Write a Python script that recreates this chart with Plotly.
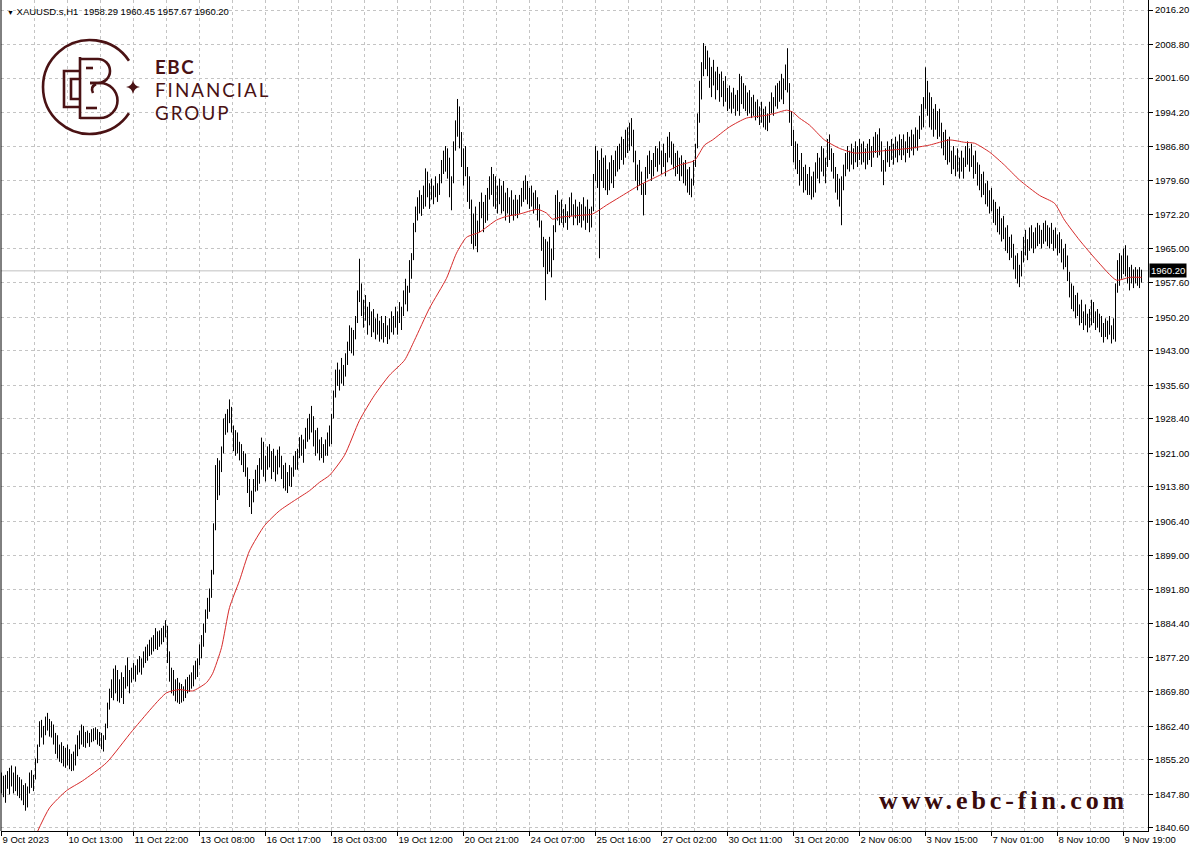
import base64
import plotly.graph_objects as go

# ---------------- data (XAUUSD.s H1) ----------------
high = [
 1852.5,1851.8,1852.0,1852.8,1853.5,1854.0,1852.5,1853.8,1852.0,1851.5,
 1851.0,1849.8,1850.2,1849.5,1852.5,1853.0,1852.0,1855.5,1858.5,1863.5,
 1863.8,1862.5,1864.5,1865.3,1864.0,1863.5,1862.8,1861.0,1860.5,1858.5,
 1859.0,1858.2,1857.8,1858.5,1857.5,1856.5,1857.0,1858.5,1860.5,1861.5,
 1862.8,1862.5,1861.2,1861.5,1861.0,1861.8,1862.0,1862.2,1861.8,1861.2,
 1861.0,1860.5,1863.0,1867.5,1870.5,1872.5,1874.8,1875.5,1874.5,1872.5,
 1874.0,1873.0,1875.5,1877.2,1874.5,1875.0,1876.0,1875.5,1876.8,1877.5,
 1877.0,1878.5,1879.5,1880.0,1881.0,1881.5,1882.0,1883.5,1882.8,1883.0,
 1883.5,1884.0,1885.2,1884.0,1878.5,1875.0,1874.5,1872.5,1872.8,1871.8,
 1871.5,1871.0,1872.5,1873.0,1873.5,1874.0,1875.5,1876.5,1877.0,1880.0,
 1882.0,1884.5,1887.5,1890.0,1892.0,1896.0,1906.0,1918.5,1920.0,1919.5,
 1922.5,1928.5,1929.5,1930.5,1932.6,1931.0,1927.0,1926.0,1925.5,1923.5,
 1923.0,1921.5,1921.0,1918.0,1915.5,1913.0,1915.5,1917.5,1918.5,1920.0,
 1924.4,1923.5,1920.5,1922.5,1923.0,1921.5,1922.0,1920.5,1921.8,1922.5,
 1920.5,1918.5,1919.0,1917.0,1918.5,1918.0,1920.5,1921.5,1922.0,1924.5,
 1925.0,1924.0,1926.5,1928.5,1929.5,1931.2,1929.0,1926.0,1926.5,1924.0,
 1924.5,1923.0,1924.0,1925.5,1927.0,1929.5,1934.5,1939.0,1940.5,1939.0,
 1941.5,1940.0,1942.5,1945.0,1948.5,1948.0,1947.5,1950.5,1956.0,1962.8,
 1957.5,1954.0,1955.0,1952.5,1953.5,1951.5,1952.0,1950.0,1951.0,1949.5,
 1950.5,1949.0,1950.5,1948.5,1950.0,1951.5,1950.5,1952.5,1951.5,1953.5,
 1952.5,1956.0,1958.5,1957.0,1962.5,1964.0,1970.5,1974.0,1976.0,1977.5,
 1976.5,1978.5,1982.2,1981.5,1979.0,1980.0,1978.5,1980.5,1979.0,1981.0,
 1984.0,1986.0,1987.0,1986.5,1984.5,1980.5,1988.0,1992.5,1997.1,1995.5,
 1990.0,1986.5,1987.0,1982.5,1980.5,1975.5,1972.5,1974.0,1971.0,1975.0,
 1977.0,1975.0,1976.5,1978.0,1980.5,1982.5,1981.0,1980.5,1978.5,1980.0,
 1978.5,1979.5,1977.0,1978.0,1976.0,1977.5,1975.5,1976.5,1975.5,1976.5,
 1978.0,1979.5,1980.7,1979.5,1978.0,1978.5,1977.0,1977.5,1976.0,1974.5,
 1971.0,1967.5,1967.0,1966.5,1967.5,1965.0,1970.0,1976.5,1977.5,1975.0,
 1975.5,1973.5,1974.5,1973.0,1976.0,1977.0,1974.5,1975.5,1974.0,1975.0,
 1974.5,1976.0,1974.0,1975.5,1973.5,1974.0,1981.0,1987.0,1986.0,1984.0,
 1986.5,1984.5,1985.0,1982.0,1983.5,1985.0,1984.0,1986.0,1987.0,1987.5,
 1989.0,1988.5,1990.5,1991.0,1992.0,1993.0,1990.5,1986.0,1983.0,1984.0,
 1981.5,1979.0,1982.5,1985.0,1986.0,1984.0,1985.5,1987.0,1986.5,1988.0,
 1986.0,1987.5,1985.5,1989.0,1990.0,1988.0,1987.5,1985.5,1986.0,1984.5,
 1985.0,1983.5,1984.0,1982.0,1982.5,1980.0,1984.0,1987.5,1994.0,2001.0,
 2005.0,2009.1,2008.5,2007.5,2006.0,2004.0,2005.5,2003.0,2004.0,2002.5,
 2003.0,2001.0,2002.0,1999.5,2000.0,1998.5,1999.5,1998.0,1999.0,2002.5,
 2002.0,2000.5,2000.0,1998.5,1999.0,1997.5,1998.0,1996.5,1997.0,1995.5,
 1996.5,1995.0,1995.5,1994.0,1996.5,1998.5,1997.5,2000.0,2000.5,2001.0,
 2002.5,2001.5,2004.5,2008.0,2000.5,1994.5,1990.5,1988.0,1987.5,1984.0,
 1985.5,1982.5,1983.0,1981.0,1982.5,1980.5,1981.5,1983.5,1985.5,1984.5,
 1987.0,1986.5,1984.5,1988.5,1989.5,1986.5,1985.5,1982.5,1981.0,1980.0,
 1980.5,1983.0,1985.5,1987.0,1986.0,1987.5,1986.5,1988.0,1987.0,1988.5,
 1987.5,1988.0,1986.5,1987.5,1988.5,1987.0,1989.0,1990.0,1989.5,1990.8,
 1988.0,1984.0,1986.5,1988.0,1987.0,1988.5,1987.5,1989.0,1988.0,1989.5,
 1988.5,1989.5,1988.0,1990.0,1989.0,1990.5,1989.5,1991.0,1990.5,1993.5,
 1996.0,1997.5,2003.9,2001.0,1998.5,1997.5,1995.0,1996.0,1994.5,1995.0,
 1992.0,1990.0,1990.5,1988.5,1989.0,1986.0,1987.0,1985.0,1986.5,1984.5,
 1986.0,1984.5,1987.0,1988.0,1986.5,1987.5,1985.0,1986.0,1983.5,1983.0,
 1981.0,1981.5,1979.0,1979.5,1977.5,1978.0,1975.5,1975.0,1973.5,1974.0,
 1971.5,1972.0,1969.5,1970.0,1967.5,1968.0,1966.0,1963.5,1964.0,1961.5,
 1964.5,1967.5,1969.0,1967.0,1969.5,1970.0,1968.5,1969.5,1970.5,1970.0,
 1969.0,1970.5,1971.0,1970.0,1969.5,1970.5,1969.0,1969.5,1968.0,1968.5,
 1967.0,1965.0,1966.0,1963.5,1960.0,1957.5,1957.0,1955.0,1955.5,1953.0,
 1954.0,1951.5,1953.0,1951.0,1952.0,1954.0,1953.5,1951.5,1952.0,1951.0,
 1950.5,1949.0,1950.0,1949.5,1950.5,1948.5,1950.0,1957.5,1962.5,1964.0,
 1963.5,1965.0,1965.7,1963.5,1961.0,1961.5,1960.5,1961.0,1960.5,1961.0,1960.45,
]
low = [
 1848.0,1847.2,1846.0,1849.0,1847.8,1849.5,1848.0,1848.5,1847.5,1847.0,
 1846.5,1845.5,1844.3,1845.0,1848.0,1849.2,1848.5,1851.0,1854.5,1858.0,
 1860.0,1858.5,1860.5,1861.5,1860.2,1860.0,1858.5,1856.5,1855.5,1854.8,
 1854.5,1853.8,1853.5,1854.0,1853.2,1852.8,1852.9,1854.0,1856.0,1857.5,
 1858.5,1858.0,1857.8,1858.8,1858.0,1859.0,1859.2,1859.5,1858.5,1858.2,
 1857.5,1857.0,1859.5,1862.0,1866.0,1868.5,1868.0,1869.5,1867.8,1867.5,
 1868.5,1867.2,1870.5,1871.0,1869.5,1871.8,1872.5,1872.0,1873.5,1874.0,
 1873.5,1875.0,1876.0,1876.5,1877.5,1877.8,1878.5,1879.0,1878.8,1879.5,
 1880.0,1880.5,1881.5,1876.0,1872.0,1869.5,1869.0,1867.8,1867.5,1867.2,
 1867.5,1867.8,1868.5,1869.5,1869.8,1870.5,1871.0,1872.5,1873.0,1875.5,
 1877.0,1879.5,1882.5,1885.5,1887.0,1890.0,1895.0,1904.5,1911.0,1912.0,
 1917.0,1921.0,1925.0,1925.5,1927.5,1925.5,1921.5,1920.5,1921.0,1919.5,
 1918.5,1917.0,1916.0,1912.5,1909.5,1908.0,1910.5,1912.8,1913.0,1914.5,
 1917.5,1916.0,1915.0,1917.5,1918.0,1915.5,1917.0,1915.0,1916.5,1918.0,
 1915.5,1913.5,1913.0,1912.5,1914.0,1913.8,1916.0,1917.5,1917.5,1920.0,
 1920.5,1919.0,1922.0,1923.5,1924.0,1925.5,1922.5,1920.5,1921.0,1919.5,
 1920.0,1919.0,1920.5,1920.5,1922.5,1923.0,1928.5,1933.0,1935.5,1934.5,
 1936.0,1935.5,1937.5,1940.0,1943.0,1942.5,1942.0,1945.5,1949.0,1953.5,
 1950.5,1948.0,1949.5,1946.5,1948.5,1946.0,1947.0,1945.5,1946.5,1945.0,
 1945.5,1944.8,1946.0,1944.5,1945.5,1947.0,1946.5,1948.0,1946.5,1949.0,
 1947.5,1950.5,1953.0,1951.5,1955.5,1958.5,1962.5,1968.5,1971.0,1972.5,
 1972.0,1973.5,1974.0,1976.0,1973.5,1975.5,1974.5,1976.0,1975.0,1976.5,
 1979.0,1981.0,1981.5,1980.0,1976.0,1973.2,1979.0,1986.0,1989.0,1986.5,
 1982.5,1978.5,1980.5,1975.0,1973.5,1966.0,1964.8,1965.5,1964.2,1968.5,
 1971.5,1968.5,1970.5,1971.0,1975.5,1976.5,1974.0,1973.5,1972.5,1974.5,
 1972.5,1973.0,1971.0,1972.5,1970.5,1972.0,1971.0,1972.0,1971.5,1972.5,
 1974.0,1975.0,1975.5,1974.5,1973.5,1974.0,1972.5,1973.5,1971.0,1969.5,
 1964.5,1961.0,1953.9,1959.5,1960.0,1958.8,1962.5,1968.5,1971.0,1970.0,
 1970.5,1969.5,1970.5,1969.0,1971.5,1972.0,1970.0,1971.5,1970.0,1970.5,
 1969.5,1971.0,1969.0,1970.5,1968.5,1969.5,1973.0,1979.5,1978.0,1962.9,
 1979.5,1978.0,1977.5,1976.5,1977.5,1979.0,1978.0,1980.5,1981.5,1982.0,
 1984.0,1983.0,1984.5,1985.5,1986.0,1987.0,1983.5,1979.5,1977.5,1978.5,
 1976.5,1972.1,1976.5,1980.0,1981.0,1979.5,1980.5,1982.5,1981.5,1983.0,
 1981.0,1982.5,1980.5,1983.5,1984.5,1983.0,1982.0,1980.5,1981.0,1979.5,
 1980.5,1979.0,1978.5,1977.0,1976.5,1976.0,1978.5,1982.5,1986.5,1992.0,
 1997.0,2002.0,2003.5,2002.0,1999.5,1997.5,2000.0,1997.0,1999.0,1996.5,
 1997.5,1995.5,1996.5,1994.5,1995.0,1994.0,1995.0,1993.5,1994.5,1993.5,
 1996.0,1995.0,1994.5,1993.5,1994.0,1993.0,1993.5,1992.5,1993.0,1991.5,
 1992.0,1991.0,1990.5,1990.2,1992.0,1994.0,1993.5,1995.5,1995.0,1996.5,
 1997.0,1996.0,1999.0,1998.5,1992.0,1987.0,1983.5,1982.0,1981.0,1978.5,
 1979.5,1977.0,1977.5,1976.5,1976.5,1975.5,1976.0,1977.0,1980.0,1979.0,
 1981.5,1980.5,1979.0,1982.5,1984.0,1981.5,1980.0,1977.0,1975.5,1974.0,
 1970.0,1977.5,1980.5,1982.0,1981.5,1983.0,1982.0,1983.5,1982.5,1984.0,
 1983.0,1983.5,1982.0,1983.0,1984.0,1982.5,1984.5,1985.5,1984.5,1985.0,
 1981.5,1978.6,1981.5,1983.5,1982.5,1984.0,1983.0,1984.5,1983.5,1985.0,
 1984.0,1985.0,1983.5,1985.5,1984.5,1986.0,1985.0,1986.5,1986.0,1988.5,
 1990.5,1991.0,1995.0,1993.5,1991.0,1990.5,1989.0,1990.5,1988.5,1989.0,
 1986.5,1985.0,1984.0,1983.0,1983.5,1981.0,1982.0,1980.5,1981.5,1980.0,
 1981.5,1980.0,1982.5,1983.0,1981.5,1982.5,1980.0,1981.0,1978.5,1977.5,
 1976.0,1976.5,1974.5,1974.0,1972.5,1973.0,1970.5,1970.0,1968.5,1968.0,
 1966.5,1967.0,1964.5,1964.0,1962.5,1963.0,1960.5,1958.5,1957.5,1956.7,
 1959.0,1962.0,1963.5,1962.5,1964.5,1965.0,1964.0,1965.0,1965.5,1966.0,
 1965.0,1966.0,1966.5,1965.5,1965.0,1966.0,1964.5,1965.0,1963.5,1964.0,
 1962.0,1960.5,1961.0,1958.0,1954.5,1952.0,1951.5,1950.0,1950.5,1948.5,
 1949.0,1947.5,1948.5,1947.0,1948.0,1948.5,1949.0,1947.5,1948.0,1947.0,
 1946.0,1944.8,1946.0,1945.5,1946.5,1944.6,1945.5,1945.0,1955.5,1957.0,
 1958.5,1959.5,1959.0,1957.5,1956.0,1957.5,1956.5,1957.5,1957.0,1956.5,1957.67,
]
close = [
 1850.5,1848.0,1851.0,1849.8,1852.5,1850.2,1851.5,1849.0,1850.0,1848.2,
 1847.5,1848.5,1845.2,1848.8,1851.8,1850.0,1851.5,1855.0,1858.0,1862.5,
 1861.0,1862.0,1863.8,1862.5,1861.0,1862.8,1859.5,1857.8,1856.2,1857.5,
 1855.0,1857.5,1854.0,1857.8,1854.2,1853.5,1856.5,1855.2,1859.8,1860.5,
 1862.0,1859.0,1860.5,1859.5,1860.2,1861.0,1859.8,1861.5,1859.5,1860.5,
 1858.0,1860.0,1862.5,1867.0,1869.8,1869.5,1874.0,1870.5,1868.5,1872.0,
 1869.2,1872.5,1875.0,1872.0,1873.8,1874.5,1873.2,1875.2,1876.0,1875.0,
 1876.5,1877.8,1877.0,1879.5,1878.5,1880.8,1879.5,1882.8,1880.0,1882.5,
 1881.0,1883.5,1882.5,1877.0,1873.0,1872.5,1870.0,1871.5,1868.5,1870.8,
 1868.5,1870.5,1871.8,1870.2,1873.0,1871.5,1875.0,1874.0,1876.5,1879.5,
 1881.5,1883.0,1887.0,1889.0,1891.5,1895.5,1905.0,1917.5,1913.0,1918.8,
 1921.8,1927.5,1926.0,1929.8,1928.5,1926.0,1922.5,1925.0,1921.8,1922.8,
 1919.5,1920.8,1916.8,1913.5,1910.5,1912.5,1914.8,1913.5,1918.0,1915.5,
 1923.0,1917.0,1919.8,1921.5,1918.8,1920.5,1917.8,1919.5,1921.0,1918.5,
 1916.2,1917.8,1914.0,1916.5,1915.0,1917.5,1920.0,1918.5,1921.5,1923.8,
 1921.5,1923.5,1925.8,1924.5,1929.0,1926.5,1923.5,1925.0,1922.0,1923.0,
 1921.0,1922.5,1921.5,1925.0,1923.5,1929.0,1934.0,1938.0,1936.5,1938.5,
 1937.0,1939.5,1942.0,1944.5,1947.5,1943.5,1947.0,1950.0,1955.0,1955.5,
 1951.5,1953.0,1950.5,1951.8,1949.0,1950.5,1947.8,1949.5,1947.0,1948.5,
 1946.5,1948.5,1946.8,1948.0,1949.5,1948.0,1950.0,1949.5,1951.0,1950.0,
 1951.8,1955.5,1954.0,1956.5,1961.5,1963.5,1970.0,1973.0,1975.5,1973.5,
 1975.8,1974.5,1981.0,1977.0,1978.5,1976.5,1978.0,1976.8,1978.5,1980.5,
 1983.5,1982.0,1986.5,1981.0,1977.5,1979.5,1987.0,1991.0,1990.5,1988.0,
 1983.5,1985.0,1981.0,1976.5,1974.5,1967.5,1971.5,1966.5,1970.0,1974.5,
 1972.5,1974.0,1971.5,1977.5,1980.0,1977.5,1980.0,1974.5,1977.8,1975.5,
 1977.5,1974.0,1976.0,1973.0,1975.5,1972.8,1974.8,1973.0,1974.5,1976.0,
 1977.5,1976.0,1979.5,1975.0,1977.5,1974.5,1976.5,1974.0,1972.0,1970.5,
 1965.5,1966.0,1962.0,1965.5,1961.0,1964.5,1969.5,1975.5,1972.0,1974.0,
 1971.5,1972.8,1971.0,1972.5,1975.5,1972.8,1973.8,1972.0,1973.5,1971.5,
 1973.5,1971.8,1973.0,1971.0,1972.5,1973.8,1980.5,1985.5,1979.0,1982.5,
 1980.5,1983.5,1978.5,1981.0,1982.5,1980.0,1983.0,1985.5,1982.5,1986.5,
 1988.5,1984.0,1990.0,1986.5,1991.5,1988.0,1984.5,1980.5,1982.0,1979.5,
 1977.5,1978.0,1982.0,1984.5,1981.5,1983.5,1984.5,1983.5,1986.0,1984.0,
 1985.5,1983.0,1985.0,1988.0,1985.5,1987.0,1983.0,1984.5,1982.0,1983.5,
 1981.5,1982.5,1979.5,1981.5,1977.5,1979.0,1983.5,1987.0,1993.0,2000.0,
 2004.0,2007.5,2004.5,2006.5,2000.5,2003.5,2001.0,2002.5,2000.0,2001.5,
 1998.5,2000.5,1997.0,1998.5,1995.8,1997.5,1996.0,1997.0,1995.5,2001.0,
 1997.0,1999.5,1995.5,1997.5,1994.8,1996.5,1994.0,1995.8,1993.5,1995.0,
 1993.0,1994.5,1991.5,1993.5,1996.0,1995.0,1997.0,1999.0,1996.5,2000.5,
 1998.0,2001.0,2003.5,1999.5,1993.0,1988.0,1985.0,1986.5,1982.0,1983.0,
 1980.5,1981.5,1978.5,1980.5,1977.5,1979.5,1977.0,1983.0,1981.0,1984.0,
 1986.0,1981.5,1983.5,1988.0,1985.0,1985.5,1981.0,1981.5,1976.5,1978.5,
 1979.5,1982.5,1985.0,1983.0,1985.5,1984.0,1986.0,1984.5,1986.5,1985.0,
 1986.5,1984.0,1985.5,1986.5,1985.0,1986.0,1988.5,1986.5,1989.0,1986.0,
 1982.5,1983.5,1986.0,1984.5,1986.5,1985.0,1987.0,1985.5,1987.5,1986.0,
 1988.0,1986.0,1987.5,1986.5,1988.5,1987.0,1989.0,1987.5,1990.0,1993.0,
 1991.5,1996.5,1997.5,1995.0,1997.0,1991.5,1994.0,1991.0,1993.5,1990.0,
 1987.5,1989.5,1985.0,1987.5,1984.0,1985.5,1982.5,1984.5,1982.0,1984.0,
 1982.5,1984.0,1986.5,1984.0,1985.5,1983.0,1984.5,1981.5,1982.5,1978.5,
 1980.5,1977.0,1978.0,1974.5,1976.5,1973.5,1974.0,1970.5,1972.5,1968.5,
 1970.5,1967.5,1968.5,1964.5,1966.5,1963.5,1961.5,1962.5,1958.5,1960.5,
 1963.5,1966.5,1964.5,1966.5,1968.5,1965.5,1967.5,1966.0,1969.5,1966.5,
 1968.5,1967.0,1970.5,1966.5,1968.5,1967.0,1968.0,1965.5,1967.0,1964.5,
 1963.0,1964.5,1961.5,1958.5,1955.5,1956.5,1952.5,1954.0,1951.0,1952.0,
 1949.5,1950.5,1949.0,1950.5,1948.5,1953.0,1950.0,1951.0,1948.5,1950.0,
 1946.5,1948.5,1946.8,1949.0,1947.0,1948.0,1946.0,1957.0,1961.5,1958.5,
 1962.5,1960.5,1963.0,1958.5,1959.5,1958.0,1960.0,1958.5,1959.5,1958.29,1960.20,
]
first_open = 1849.5
open_ = [first_open] + close[:-1]
open_[-1] = 1958.29

# moving average (red line): bar index, value
ma_idx = [17, 24, 32.5, 40.5, 52.5, 65.5, 82.5, 89, 95.5, 102.5, 105.5, 110, 114, 119,
          124, 131.5, 139, 146.5, 154, 159, 164, 171.5, 179, 186.5, 194, 201.5, 206.5,
          214, 222.5, 227.5, 232.5, 239, 247.5, 252.5, 259, 268, 272.5, 275.5, 279, 289,
          295.5, 302.5, 309, 319, 329, 339, 346.5, 351.5, 355.5, 364, 372.5, 382.5,
          387.5, 392.5, 395.5, 399, 404, 411.5, 419, 426.5, 434, 444, 454, 464, 474,
          481.5, 486.5, 494, 501.5, 509, 519, 526.5, 531.5, 539, 547.5, 557.5, 564, 570]
ma_val = [1838.9, 1844.9, 1848.6, 1850.7, 1854.6, 1861.5, 1869.6, 1870.3, 1870.0, 1871.8,
          1873.7, 1879.3, 1887.9, 1893.7, 1900.1, 1905.5, 1908.7, 1910.9, 1913.0, 1914.8,
          1916.3, 1920.6, 1928.1, 1933.5, 1937.8, 1941.0, 1945.3, 1952.2, 1958.6, 1964.0,
          1967.4, 1968.5, 1971.1, 1971.9, 1972.4, 1973.4, 1972.6, 1971.3, 1971.7, 1972.1,
          1972.4, 1974.3, 1976.0, 1978.6, 1980.7, 1982.9, 1983.9, 1987.2, 1988.3, 1991.1,
          1993.0, 1993.6, 1994.1, 1994.7, 1994.3, 1993.0, 1991.5, 1988.3, 1986.5, 1985.5,
          1985.7, 1986.1, 1986.5, 1987.2, 1988.3, 1987.8, 1987.6, 1985.7, 1982.9, 1979.7,
          1976.4, 1974.7, 1971.1, 1966.8, 1962.5, 1958.2, 1958.8, 1958.8]

x_tick_labels = ["9 Oct 2023", "10 Oct 13:00", "11 Oct 22:00", "13 Oct 08:00", "16 Oct 17:00",
                 "18 Oct 03:00", "19 Oct 12:00", "20 Oct 21:00", "24 Oct 07:00", "25 Oct 16:00",
                 "27 Oct 02:00", "30 Oct 11:00", "31 Oct 20:00", "2 Nov 06:00", "3 Nov 15:00",
                 "7 Nov 01:00", "8 Nov 10:00", "9 Nov 19:00"]
bars_per_label = 33
y_tick_labels = ["2016.20", "2008.80", "2001.60", "1994.20", "1986.80", "1979.60", "1972.20",
                 "1965.00", "1957.60", "1950.20", "1943.00", "1935.60", "1928.40", "1921.00",
                 "1913.80", "1906.40", "1899.00", "1891.80", "1884.40", "1877.20", "1869.80",
                 "1862.40", "1855.20", "1847.80", "1840.60"]
symbol = "XAUUSD.s,H1"
site = "www.ebc-fin.com"

# ---------------- styling ----------------
MAROON = "#4a1214"
GRID = "#c4c4c4"
FONT = "Liberation Sans, Arial, sans-serif"

idx = list(range(len(close)))
last_close = close[-1]

fig = go.Figure()
fig.add_trace(go.Ohlc(
    x=idx, open=open_, high=high, low=low, close=close,
    increasing=dict(line=dict(color="#000000", width=1)),
    decreasing=dict(line=dict(color="#000000", width=1)),
    tickwidth=0, hoverinfo="skip", showlegend=False,
))
fig.add_trace(go.Scatter(
    x=ma_idx, y=ma_val, mode="lines",
    line=dict(color="#d62a2a", width=1, shape="spline", smoothing=0.6),
    hoverinfo="skip", showlegend=False,
))

x_tickvals = [k * bars_per_label for k in range(len(x_tick_labels))]
x_minor = [k * bars_per_label / 2 for k in range(0, 36)]
y_tickvals = [float(t) for t in y_tick_labels]

W, H = 1196, 862
ML, MR, MT, MB = 1, 48, 0, 31
PW, PH = W - ML - MR, H - MT - MB

fig.update_layout(
    width=W, height=H,
    margin=dict(l=ML, r=MR, t=MT, b=MB, autoexpand=False),
    paper_bgcolor="white", plot_bgcolor="white",
    font=dict(family=FONT, size=10, color="black"),
    showlegend=False,
    xaxis=dict(
        range=[-0.25, 573.25], rangeslider=dict(visible=False), automargin=False,
        tickmode="array", tickvals=x_tickvals, ticktext=x_tick_labels,
        ticks="outside", ticklen=4, tickcolor="black",
        ticklabelposition="outside right",
        tickfont=dict(size=9.5, family=FONT),
        showline=True, linecolor="black", linewidth=1,
        showgrid=True, gridcolor=GRID, griddash="3px,3px", gridwidth=1,
        minor=dict(tickmode="array", tickvals=x_minor, showgrid=True, gridcolor=GRID,
                   griddash="3px,3px", gridwidth=1, ticks=""),
        zeroline=False, fixedrange=True,
    ),
    yaxis=dict(
        side="right", range=[1839.94, 2018.35], automargin=False,
        tickmode="array", tickvals=y_tickvals, ticktext=y_tick_labels,
        ticks="outside", ticklen=4, tickcolor="black",
        tickfont=dict(size=9.5, family=FONT),
        showline=True, linecolor="black", linewidth=1,
        showgrid=True, gridcolor=GRID, griddash="3px,3px", gridwidth=1,
        zeroline=False, fixedrange=True,
    ),
)

# current price line and label
fig.add_shape(type="line", xref="paper", x0=0, x1=1, yref="y", y0=last_close, y1=last_close,
              line=dict(color="#c0c0c0", width=1), layer="below")
fig.add_annotation(xref="paper", x=1, xanchor="left", xshift=1, yref="y", y=last_close,
                   yanchor="middle", text=f"{last_close:.2f}", showarrow=False,
                   bgcolor="black", font=dict(color="white", size=9.5, family=FONT), borderpad=1)
# left frame line
fig.add_shape(type="line", xref="paper", x0=0, x1=0, yref="paper", y0=0, y1=1,
              line=dict(color="black", width=1))

# header text
hdr = f"{symbol}  {open_[-1]:.2f} {high[-1]:.2f} {low[-1]:.2f} {close[-1]:.2f}"
fig.add_annotation(xref="paper", yref="paper", x=4 / PW, y=1 - 11 / PH, xanchor="left",
                   yanchor="middle", showarrow=False,
                   text=f"<span style='font-size:7px'>▼</span> {hdr}",
                   font=dict(size=9.5, family=FONT, color="black"))

# logo graphic (monogram)
svg = f'''<svg xmlns="http://www.w3.org/2000/svg" viewBox="38 36 106 106" width="106" height="106" preserveAspectRatio="none">
<g fill="none" stroke="{MAROON}" stroke-width="2.6">
<path d="M128.97,60.7 A47,47 0 1 0 128.97,113.3"/>
<path d="M80,71 H64 V107 H80"/>
<path d="M80,79 H71 V99 H80"/>
<path d="M80,57 V119"/>
<path d="M80,59 H98 A12,12 0 0 1 98,83 H90"/>
<path d="M90,83 H100 A17.5,17.5 0 0 1 100,118 H80"/>
<path d="M86,68 H93"/>
<path d="M86,108 H97"/>
<path d="M93,93 Q90,87 96,84"/>
</g>
<path d="M133,80 Q134,86 140,87 Q134,88 133,94 Q132,88 126,87 Q132,86 133,80 Z" fill="{MAROON}"/>
</svg>'''
src = "data:image/svg+xml;base64," + base64.b64encode(svg.encode()).decode()
fig.add_layout_image(source=src, xref="paper", yref="paper",
                     x=(38 - ML) / PW, y=1 - 36 / PH, sizex=106 / PW, sizey=106 / PH,
                     xanchor="left", yanchor="top", sizing="stretch", layer="above")

# logo text: one block, line pitch 1.3 x 17.7px = 23px, glyphs 18.8px with tracking
logo_lines = ["<span style='font-size:18.8px;letter-spacing:1.5px'><b>EBC</b></span>",
              "<span style='font-size:18.8px;letter-spacing:2px'>FINANCIAL</span>",
              "<span style='font-size:18.8px;letter-spacing:2px'>GROUP</span>"]
fig.add_annotation(xref="paper", yref="paper", x=(153 - ML) / PW, y=1 - 89 / PH,
                   xanchor="left", yanchor="middle", align="left", showarrow=False,
                   text="<br>".join(logo_lines),
                   font=dict(family="Lato, sans-serif", size=17.7, color=MAROON))

# watermark
fig.add_annotation(xref="paper", yref="paper", x=(1004 - ML) / PW, y=1 - 800 / PH,
                   xanchor="center", yanchor="middle", showarrow=False,
                   text=f"<span style='letter-spacing:3.9px'><b>{site}</b></span>",
                   font=dict(family="Liberation Serif, Times New Roman, serif", size=26,
                             color="#3a0b0d"))

fig.write_html("out.html", config={"displayModeBar": False},
               post_script="document.body.style.margin='0';document.body.style.overflow='hidden';")
